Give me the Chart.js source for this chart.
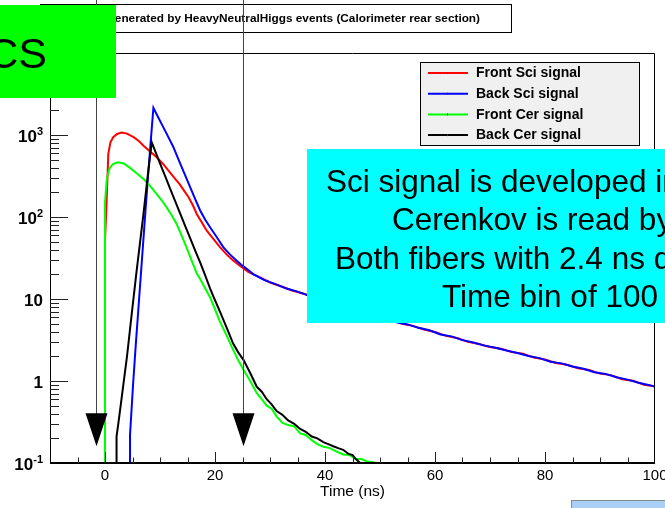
<!DOCTYPE html>
<html>
<head>
<meta charset="utf-8">
<script src="https://cdn.jsdelivr.net/npm/chart.js@4/dist/chart.umd.min.js"></script>
<style>
  html, body { margin: 0; padding: 0; background: #fff; }
  canvas { display: block; }
</style>
</head>
<body>
<canvas id="c" width="665" height="508"></canvas>
<script>
// Pulse shapes (counts per 100 ps bin) versus time in ns
const frontSciT = [-10, 0, 0, 0.3, 0.6, 1.0, 1.5, 2.2, 3.0, 4.0, 5.2, 6.2, 7.0, 8.2, 9.4, 10.6, 11.8, 12.8, 13.6, 14.4, 15.2, 16.0, 16.7, 17.6, 18.5, 19.7, 20.9, 22.1, 23.3, 24.7, 26.1,
  28, 30, 32, 34, 36, 38, 40, 42, 44, 46, 48, 50, 52, 54, 56, 58, 60, 62, 64, 66, 68, 70, 72, 74, 76, 78, 80, 82, 84, 86, 88, 90, 92, 94, 96, 98, 100];
const frontSciV = [0.1, 0.1, 51, 158, 590, 820, 940, 1030, 1070, 1040, 940, 840, 740, 630, 535, 440, 350, 290, 250, 208, 174, 138, 108, 86, 68, 54, 43, 35, 29.5, 25, 21.3,
  18.6, 15.9, 14.3, 12.7, 11.7, 10.5, 9.8, 8.8, 8.3, 7.4, 6.9, 6.0, 5.6, 5.0, 4.7, 4.25, 3.95, 3.55, 3.35, 3.0, 2.82, 2.6, 2.48, 2.25, 2.15, 1.93, 1.83, 1.66, 1.58, 1.43, 1.36, 1.23, 1.18, 1.05, 1.01, 0.9, 0.86];

const backSciT = [-10, 4.55, 4.55, 5.1, 5.6, 6.2, 6.8, 7.4, 8.0, 8.5, 8.8, 9.6, 10.4, 11.2, 12.4, 13.6, 14.6, 15.5, 16.4, 17.3, 18.2, 19.1, 20.3, 21.5, 22.7, 23.9, 25.0, 26.1,
  27, 29, 31, 33, 35, 37, 39, 41, 43, 45, 47, 49, 51, 53, 55, 57, 59, 61, 63, 65, 67, 69, 71, 73, 75, 77, 79, 81, 83, 85, 87, 89, 91, 93, 95, 97, 99, 100];
const backSciV = [0.1, 0.1, 0.22, 0.9, 2.8, 10, 36, 130, 450, 1200, 2140, 1680, 1320, 1040, 720, 460, 320, 230, 165, 120, 93, 75, 57, 43, 35, 29.5, 25.5, 22.4,
  20.0, 17.0, 15.2, 13.4, 12.3, 11.0, 10.3, 9.2, 8.6, 7.8, 7.2, 6.4, 5.9, 5.2, 4.9, 4.45, 4.15, 3.7, 3.5, 3.15, 2.95, 2.7, 2.55, 2.35, 2.2, 2.02, 1.9, 1.72, 1.64, 1.5, 1.41, 1.28, 1.22, 1.11, 1.04, 0.95, 0.89, 0.85];

const frontCerT = [-10, 0, 0, 0.3, 0.6, 0.9, 1.5, 2.4, 3.4, 4.5, 5.7, 7.0, 8.2, 9.4, 10.3, 11.2, 12.1, 13.0, 13.9, 14.8, 15.7, 16.7, 17.3, 18.2, 19.1, 20.0, 20.9, 22.1, 23.3, 24.2, 25.2,
  26.4, 27.6, 28.5, 29.4, 30.3, 31.2, 32.2, 33.3, 34.4, 35.5, 36.5, 37.6, 38.6, 39.7, 40.9, 42.1, 43.3, 44.5, 45.5, 46.6, 47.7, 48.8, 49.2, 100];
const frontCerV = [0.1, 0.1, 150, 275, 350, 400, 445, 465, 450, 400, 345, 290, 240, 190, 160, 131, 106, 83, 60, 43, 30, 20.4, 17.5, 13.5, 10.5, 7.5, 5.3, 3.6, 2.4, 1.8, 1.36,
  1.0, 0.71, 0.6, 0.5, 0.46, 0.37, 0.31, 0.29, 0.28, 0.23, 0.22, 0.19, 0.17, 0.158, 0.152, 0.138, 0.127, 0.125, 0.113, 0.112, 0.104, 0.102, 0.1, 0.1];

const backCerT = [-10, 2.1, 2.1, 2.5, 3.0, 3.5, 4.0, 4.85, 5.75, 7.0, 7.8, 8.5, 9.2, 10.0, 10.9, 11.8, 12.7, 13.6, 14.5, 15.5, 16.4, 17.3, 18.2, 19.1, 19.7, 20.9, 22.1, 23.3, 24.2, 25.2,
  26.4, 27.6, 28.5, 29.4, 30.3, 31.2, 32.2, 33.3, 34.4, 35.5, 36.5, 37.6, 38.6, 39.7, 40.6, 41.5, 42.4, 43.3, 44.2, 45.0, 45.7, 46.4, 100];
const backCerV = [0.1, 0.1, 0.21, 0.33, 0.6, 1.1, 2.0, 6.5, 22, 110, 330, 815, 620, 450, 320, 225, 160, 113, 80, 55, 39, 28, 19.5, 13.5, 10.8, 7.0, 4.5, 2.86, 2.25, 1.8,
  1.25, 0.85, 0.74, 0.6, 0.52, 0.43, 0.39, 0.33, 0.3, 0.26, 0.24, 0.21, 0.2, 0.18, 0.17, 0.16, 0.152, 0.145, 0.13, 0.125, 0.11, 0.1, 0.1];

const seriesLabels = ['Front Sci signal', 'Back Sci signal', 'Front Cer signal', 'Back Cer signal'];
const seriesColors = ['#ff0000', '#0000ff', '#00ff00', '#000000'];
const seriesOrder  = [3, 2, 1, 0];   // black on top of green, blue on top of red

const xMajorTicks = [0, 20, 40, 60, 80, 100];
const xMinorStep = 5;
const yDecadeExponents = [-1, 0, 1, 2, 3, 4];
const yLabelExponents = [-1, 0, 1, 2, 3];
const xAxisTitle = 'Time (ns)';
const plotTitle = 'Generated by HeavyNeutralHiggs events (Calorimeter rear section)';
const windowMarkers = [-1.6, 25.1];     // ns
const markerTipValue = 0.16;
const noteLines = ['Sci signal is developed in', 'Cerenkov is read by', 'Both fibers with 2.4 ns d', 'Time bin of 100'];
const noteLineX = [326, 392, 335, 442];
const cornerText = 'CS';

const FONT = "'Liberation Sans', Arial, Helvetica, sans-serif";

function toPoints(t, v) { return t.map((x, i) => ({ x: x, y: v[i] })); }
const seriesData = [toPoints(frontSciT, frontSciV), toPoints(backSciT, backSciV),
                    toPoints(frontCerT, frontCerV), toPoints(backCerT, backCerV)];

const datasets = seriesData.map((d, i) => ({
  label: seriesLabels[i],
  data: d,
  borderColor: seriesColors[i],
  backgroundColor: seriesColors[i],
  borderWidth: 2,
  pointRadius: 0,
  tension: 0,
  fill: false,
  order: seriesOrder[i]
}));

const rootStyle = {
  id: 'rootStyle',
  beforeDraw(chart) {
    const c = chart.ctx;
    c.save();
    c.fillStyle = '#fff';
    c.fillRect(0, 0, chart.width, chart.height);
    c.restore();
  },
  afterDatasetsDraw(chart) {
    const c = chart.ctx, a = chart.chartArea, xs = chart.scales.x, ys = chart.scales.y;
    c.save();
    // frame
    c.strokeStyle = '#000';
    c.lineWidth = 1;
    c.beginPath();
    c.moveTo(a.left + 0.5, a.bottom);
    c.lineTo(a.left + 0.5, a.top + 0.5);
    c.lineTo(a.right - 0.5, a.top + 0.5);
    c.lineTo(a.right - 0.5, a.bottom);
    c.stroke();
    // x axis line
    c.lineWidth = 2;
    c.beginPath();
    c.moveTo(a.left, a.bottom);
    c.lineTo(a.right, a.bottom);
    c.stroke();

    // x ticks, pointing into the frame
    c.lineWidth = 1;
    c.strokeStyle = '#222';
    for (let v = xs.min + xMinorStep; v < xs.max; v += xMinorStep) {
      const px = Math.round(xs.getPixelForValue(v)) + 0.5;
      const len = xMajorTicks.includes(v) ? 11 : 5.5;
      c.beginPath();
      c.moveTo(px, a.bottom);
      c.lineTo(px, a.bottom - len);
      c.stroke();
    }
    // y ticks (log), pointing into the frame
    yDecadeExponents.forEach(e => {
      for (let m = 1; m <= 9; m++) {
        const v = m * Math.pow(10, e);
        if (v < ys.min || v > ys.max) continue;
        const py = Math.round(ys.getPixelForValue(v)) + 0.5;
        if (py < a.top || py > a.bottom - 1) continue;
        const len = m === 1 ? 18 : 9;
        c.beginPath();
        c.moveTo(a.left, py);
        c.lineTo(a.left + len, py);
        c.stroke();
      }
    });

    // x tick labels
    c.fillStyle = '#000';
    c.font = '15px ' + FONT;
    c.textAlign = 'center';
    c.textBaseline = 'alphabetic';
    xMajorTicks.forEach(v => {
      c.fillText(String(v), xs.getPixelForValue(v), a.bottom + 17);
    });
    // x axis title
    c.font = '15.5px ' + FONT;
    c.fillText(xAxisTitle, (a.left + a.right) / 2, a.bottom + 33);

    // y tick labels with superscript exponents
    const rightEdge = a.left - 7;
    c.textAlign = 'right';
    yLabelExponents.forEach(e => {
      const py = ys.getPixelForValue(Math.pow(10, e));
      if (e === 0 || e === 1) {
        c.font = 'bold 17px ' + FONT;
        c.fillText(e === 0 ? '1' : '10', rightEdge, py + 6.5);
      } else {
        const sup = e < 0 ? '-' + Math.abs(e) : String(e);
        c.font = 'bold 11px ' + FONT;
        const w = c.measureText(sup).width;
        c.fillText(sup, rightEdge, py - 0.5);
        c.font = 'bold 17px ' + FONT;
        c.fillText('10', rightEdge - w, py + 6.5);
      }
    });
    c.restore();
  },
  afterDraw(chart) {
    const c = chart.ctx, xs = chart.scales.x, ys = chart.scales.y;
    c.save();

    // title pave
    c.fillStyle = '#fff';
    c.fillRect(40, 4.5, 471, 28);
    c.strokeStyle = '#000';
    c.lineWidth = 1;
    c.strokeRect(40.5, 4.5, 471, 28);
    c.fillStyle = '#000';
    c.font = 'bold 11.8px ' + FONT;
    c.textAlign = 'right';
    c.textBaseline = 'alphabetic';
    c.fillText(plotTitle, 480, 22);

    // integration window markers
    const tipY = ys.getPixelForValue(markerTipValue);
    windowMarkers.forEach(t => {
      const px = Math.round(xs.getPixelForValue(t)) + 0.5;
      c.strokeStyle = '#444';
      c.lineWidth = 1;
      c.beginPath();
      c.moveTo(px, 0);
      c.lineTo(px, tipY - 30);
      c.stroke();
      c.fillStyle = '#000';
      c.beginPath();
      c.moveTo(px - 11, tipY - 33);
      c.lineTo(px + 11, tipY - 33);
      c.lineTo(px, tipY);
      c.closePath();
      c.fill();
    });

    // legend
    const lx = 420.5, ly = 62.5, lw = 219, lh = 83;
    c.fillStyle = '#f0f0f0';
    c.fillRect(lx, ly, lw, lh);
    c.strokeStyle = '#000';
    c.lineWidth = 1;
    c.strokeRect(lx, ly, lw, lh);
    c.font = 'bold 14px ' + FONT;
    c.textAlign = 'left';
    c.textBaseline = 'middle';
    chart.data.datasets.forEach((ds, i) => {
      const ry = 73 + i * 20.7;
      c.strokeStyle = ds.borderColor;
      c.lineWidth = 2;
      c.beginPath();
      c.moveTo(428, ry);
      c.lineTo(468, ry);
      c.stroke();
      c.fillStyle = '#333';
      c.fillRect(447, ry - 1, 1, 2);
      c.fillStyle = '#000';
      c.fillText(ds.label, 476, ry + 0.5);
    });

    // note box
    c.fillStyle = '#00ffff';
    c.fillRect(307, 149, 358, 174);
    c.fillStyle = '#000';
    c.font = '31.5px ' + FONT;
    c.textAlign = 'left';
    c.textBaseline = 'alphabetic';
    noteLines.forEach((s, i) => c.fillText(s, noteLineX[i], 192 + i * 38.3));

    // corner label box
    c.fillStyle = '#00ff00';
    c.fillRect(0, 5, 116, 93);
    c.fillStyle = '#000';
    c.font = '43px ' + FONT;
    c.textAlign = 'right';
    c.fillText(cornerText, 47, 68);

    // box at bottom right
    c.fillStyle = '#a8cff5';
    c.fillRect(571, 500, 94, 8);
    c.strokeStyle = '#8a8a8a';
    c.lineWidth = 1;
    c.strokeRect(571.5, 500.5, 100, 10);

    c.restore();
  }
};

new Chart(document.getElementById('c').getContext('2d'), {
  type: 'line',
  data: { datasets: datasets },
  options: {
    responsive: false,
    animation: false,
    devicePixelRatio: 1,
    layout: { padding: { left: 50, top: 53, right: 10, bottom: 45 } },
    scales: {
      x: { type: 'linear', min: -10, max: 100, display: false },
      y: { type: 'logarithmic', min: 0.1, max: 10000, display: false }
    },
    plugins: { legend: { display: false }, tooltip: { enabled: false } },
    elements: { point: { radius: 0 }, line: { borderWidth: 2, tension: 0 } }
  },
  plugins: [rootStyle]
});
</script>
</body>
</html>
